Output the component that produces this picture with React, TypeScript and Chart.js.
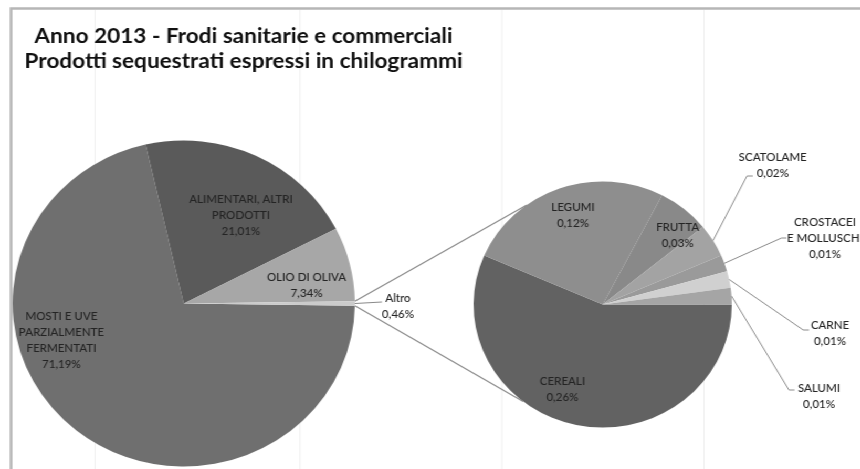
import { useEffect, useRef } from "react";
import { Chart, registerables } from "chart.js";

Chart.register(...registerables);

// Main pie: product groups seized in 2013 (share of kg, %)
const mainCategories: string[][] = [
  ["MOSTI E UVE", "PARZIALMENTE", "FERMENTATI"],
  ["ALIMENTARI, ALTRI", "PRODOTTI"],
  ["OLIO DI OLIVA"],
  ["Altro"],
];
const mainValues = [71.19, 21.01, 7.34, 0.46];
const mainColors = ["#6f6f6f", "#5a5a5a", "#a7a7a7", "#cbcbcb"];

// Secondary pie: breakdown of "Altro"
const detailCategories: string[][] = [
  ["CEREALI"],
  ["LEGUMI"],
  ["FRUTTA"],
  ["SCATOLAME"],
  ["CROSTACEI", "E MOLLUSCHI"],
  ["CARNE"],
  ["SALUMI"],
];
const detailValues = [0.26, 0.12, 0.03, 0.02, 0.01, 0.01, 0.01];
const detailColors = ["#626262", "#8e8e8e", "#898989", "#a3a3a3", "#9a9a9a", "#d0d0d0", "#a5a5a5"];

const titleLines = [
  "Anno 2013 - Frodi sanitarie e commerciali",
  "Prodotti sequestrati espressi in chilogrammi",
];

// Drawing surface (the whole sheet is widened slightly by CSS)
const W = 840;
const H = 480;
const STRETCH = 1.05;

type Place = { x: number; y: number; leader?: [number, number][] };

const mainPlaces: Place[] = [
  { x: 58.5, y: 316 },
  { x: 229.5, y: 199 },
  { x: 292, y: 277.5 },
  { x: 379, y: 298.5, leader: [[363.8, 302]] },
];

const detailPlaces: Place[] = [
  { x: 535.7, y: 381 },
  { x: 545.7, y: 207.5 },
  { x: 645.4, y: 227.5 },
  { x: 736, y: 157.5, leader: [[711.4, 176], [717, 176]] },
  { x: 785.7, y: 222.5, leader: [[744.3, 238], [749, 238]] },
  { x: 790.5, y: 325.5, leader: [[765, 330], [770.5, 330]] },
  { x: 780, y: 388.5, leader: [[751.4, 390], [756.7, 390]] },
];

// Angles (deg, clockwise from 3 o'clock) where the "Altro" connectors meet the second pie
const connectorUpperDeg = 234;
const connectorLowerDeg = 128;

// Faint sheet cell borders behind the chart
const cellGridX = [90.5, 285.7, 478, 670.5];

const LABEL_FONT = "500 11px Lato";
const LABEL_COLOR = "#242424";
const LINE_H = 16;
const LEADER_COLOR = "#8a8a8a";

const pct = (v: number) => `${v.toFixed(2).replace(".", ",")}%`;

function arcGeom(chart: Chart, i: number) {
  const el: any = chart.getDatasetMeta(0).data[i];
  return el.getProps(["x", "y", "startAngle", "endAngle", "outerRadius"], true) as {
    x: number;
    y: number;
    startAngle: number;
    endAngle: number;
    outerRadius: number;
  };
}

function drawLabels(chart: Chart, cats: string[][], vals: number[], places: Place[]) {
  const ctx = chart.ctx;
  ctx.save();
  ctx.font = LABEL_FONT;
  ctx.textAlign = "center";
  ctx.textBaseline = "middle";
  places.forEach((p, i) => {
    if (p.leader) {
      const g = arcGeom(chart, i);
      const mid = (g.startAngle + g.endAngle) / 2;
      ctx.beginPath();
      ctx.moveTo(g.x + g.outerRadius * Math.cos(mid), g.y + g.outerRadius * Math.sin(mid));
      p.leader.forEach(([lx, ly]) => ctx.lineTo(lx, ly));
      ctx.strokeStyle = LEADER_COLOR;
      ctx.lineWidth = 1;
      ctx.stroke();
    }
    const lines = [...cats[i], pct(vals[i])];
    ctx.fillStyle = LABEL_COLOR;
    lines.forEach((t, k) => ctx.fillText(t, p.x, p.y + k * LINE_H));
  });
  ctx.restore();
}

const sheetPlugin = {
  id: "sheet",
  beforeDraw(chart: Chart) {
    const ctx = chart.ctx;
    ctx.save();
    ctx.fillStyle = "#ffffff";
    ctx.fillRect(0, 0, W, H);
    ctx.strokeStyle = "#efefef";
    ctx.lineWidth = 1;
    cellGridX.forEach((x) => {
      ctx.beginPath();
      ctx.moveTo(x, 10);
      ctx.lineTo(x, H);
      ctx.stroke();
    });
    ctx.strokeStyle = "#b6b6b6";
    ctx.lineWidth = 2.5;
    ctx.beginPath();
    ctx.moveTo(10.5, H);
    ctx.lineTo(10.5, 8.5);
    ctx.lineTo(W, 8.5);
    ctx.stroke();
    ctx.restore();
  },
  afterDraw(chart: Chart) {
    const ctx = chart.ctx;
    ctx.save();
    ctx.font = "bold 21.5px Lato";
    ctx.fillStyle = "#111111";
    ctx.textAlign = "center";
    ctx.textBaseline = "alphabetic";
    ctx.fillText(titleLines[0], 232, 43);
    ctx.fillText(titleLines[1], 232, 68);
    ctx.restore();
    drawLabels(chart, mainCategories, mainValues, mainPlaces);
  },
};

function detailPlugin(main: Chart) {
  return {
    id: "detail",
    afterDraw(chart: Chart) {
      const ctx = chart.ctx;
      const other = arcGeom(main, mainValues.length - 1);
      const d = arcGeom(chart, 0);
      const ends = [connectorUpperDeg, connectorLowerDeg].map((a) => (a * Math.PI) / 180);
      const starts = [other.startAngle, other.endAngle];
      ctx.save();
      ctx.strokeStyle = LEADER_COLOR;
      ctx.lineWidth = 1.2;
      starts.forEach((s, k) => {
        ctx.beginPath();
        ctx.moveTo(other.x + other.outerRadius * Math.cos(s), other.y + other.outerRadius * Math.sin(s));
        ctx.lineTo(d.x + d.outerRadius * Math.cos(ends[k]), d.y + d.outerRadius * Math.sin(ends[k]));
        ctx.stroke();
      });
      ctx.restore();
      drawLabels(chart, detailCategories, detailValues, detailPlaces);
    },
  };
}

const baseOptions = (padding: { left: number; top: number; right: number; bottom: number }, rotation: number) => ({
  responsive: false,
  animation: false as const,
  devicePixelRatio: 1,
  events: [] as any[],
  rotation,
  layout: { padding },
  plugins: { legend: { display: false }, tooltip: { enabled: false }, title: { display: false } },
});

export default function App() {
  const mainRef = useRef<HTMLCanvasElement>(null);
  const detailRef = useRef<HTMLCanvasElement>(null);

  useEffect(() => {
    // "Altro" is centred on 3 o'clock; slices run clockwise after it
    const otherHalf = (mainValues[mainValues.length - 1] / mainValues.reduce((a, b) => a + b, 0)) * 180;
    const main = new Chart(mainRef.current!, {
      type: "pie",
      data: {
        labels: mainCategories.map((c) => c.join(" ")),
        datasets: [{ data: mainValues, backgroundColor: mainColors, borderWidth: 0 }],
      },
      options: baseOptions({ left: 12, top: 140.5, right: W - 338, bottom: H - 466.5 }, 90 + otherHalf) as any,
      plugins: [sheetPlugin],
    });
    const detail = new Chart(detailRef.current!, {
      type: "pie",
      data: {
        labels: detailCategories.map((c) => c.join(" ")),
        datasets: [{ data: detailValues, backgroundColor: detailColors, borderWidth: 0 }],
      },
      options: baseOptions({ left: 451, top: 181.5, right: W - 697, bottom: H - 427.5 }, 90) as any,
      plugins: [detailPlugin(main)],
    });
    return () => {
      detail.destroy();
      main.destroy();
    };
  }, []);

  return (
    <div
      style={{
        position: "fixed",
        left: 0,
        top: 0,
        width: 860,
        height: 469,
        overflow: "hidden",
        background: "#fff",
      }}
    >
      <div
        style={{
          position: "absolute",
          left: 0,
          top: 0,
          width: W,
          height: H,
          transform: `scaleX(${STRETCH})`,
          transformOrigin: "0 0",
        }}
      >
        <canvas ref={mainRef} width={W} height={H} style={{ position: "absolute", left: 0, top: 0 }} />
        <canvas ref={detailRef} width={W} height={H} style={{ position: "absolute", left: 0, top: 0 }} />
      </div>
    </div>
  );
}
